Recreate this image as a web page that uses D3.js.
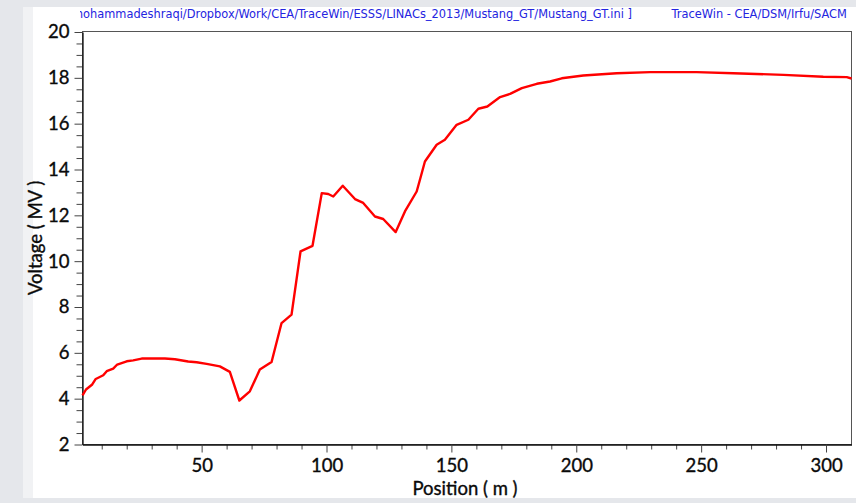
<!DOCTYPE html>
<html>
<head>
<meta charset="utf-8">
<script src="https://cdn.jsdelivr.net/npm/d3@7"></script>
<style>
  html, body { margin: 0; padding: 0; background: #e5e7eb; }
  svg { display: block; }
</style>
</head>
<body>
<svg id="chart" width="856" height="503"></svg>
<script>
// Accelerating voltage along the linac (TraceWin output)
const positions = [2.3, 3.7, 6.2, 7.6, 10.6, 12.0, 14.6, 16.2, 20.0, 22.6, 26.0, 35.3, 39.3, 44.6, 48.0,
  52.0, 57.3, 61.3, 65.1, 69.3, 73.3, 78.0, 82.0, 86.0, 89.6, 94.4, 98.1, 100.7, 102.7, 106.5,
  111.4, 114.7, 119.4, 122.7, 127.7, 131.4, 136.1, 137.6, 139.4, 144.1, 147.4, 152.1, 156.8, 160.8,
  164.4, 169.5, 173.5, 178.2, 184.2, 189.5, 194.2, 202.8, 216.2, 229.6, 248.2, 262.9, 283.0,
  298.9, 308.3, 310.2];
const voltages = [4.14, 4.40, 4.62, 4.86, 5.02, 5.20, 5.31, 5.49, 5.63, 5.67, 5.75, 5.75, 5.72, 5.62, 5.59,
  5.52, 5.41, 5.17, 3.92, 4.32, 5.27, 5.60, 7.30, 7.67, 10.43, 10.67, 12.97, 12.93, 12.82, 13.29,
  12.71, 12.54, 11.95, 11.84, 11.27, 12.17, 13.04, 13.63, 14.35, 15.08, 15.30, 15.95, 16.17, 16.65,
  16.75, 17.16, 17.30, 17.55, 17.74, 17.84, 17.98, 18.10, 18.20, 18.25, 18.25, 18.20, 18.13,
  18.05, 18.03, 17.97];
const xTicks = [50, 100, 150, 200, 250, 300];
const yTicks = [2, 4, 6, 8, 10, 12, 14, 16, 18, 20];
const xTitle = "Position ( m )";
const yTitle = "Voltage ( MV )";
const fileTitle = "[ /Users/mohammadeshraqi/Dropbox/Work/CEA/TraceWin/ESSS/LINACs_2013/Mustang_GT/Mustang_GT.ini ]";
const codeTitle = "TraceWin - CEA/DSM/Irfu/SACM";

const svg = d3.select("#chart");
const W = 856, H = 503;
const plot = { left: 82.5, right: 851.5, top: 31.5, bottom: 444.5 };
const labelFont = "Lato, 'Open Sans', sans-serif";
const titleFont = "'DejaVu Sans', Verdana, sans-serif";
const blue = "#2424e0";
const ink = "#0a0a0a";

// window background: grey surround, light strip, white panel
svg.append("rect").attr("width", W).attr("height", H).attr("fill", "#e5e7eb");
svg.append("rect").attr("x", 23).attr("y", 7).attr("width", W - 23).attr("height", 491).attr("fill", "#f1f2f4");
svg.append("rect").attr("x", 33).attr("y", 7).attr("width", W - 33).attr("height", 491).attr("fill", "#ffffff");

const x = d3.scaleLinear().domain(d3.extent(positions)).range([plot.left, plot.right]);
const y = d3.scaleLinear().domain([2, 20]).range([plot.bottom, plot.top + 0.5]);

// header lines
const clip = svg.append("defs").append("clipPath").attr("id", "hdr");
clip.append("rect").attr("x", 80).attr("y", 0).attr("width", 700).attr("height", 30);

const t2 = svg.append("text")
  .attr("x", 671.5).attr("y", 17.5)
  .attr("fill", blue)
  .style("font-family", titleFont)
  .style("font-size", "11px")
  .text(codeTitle);
// scale header font so the signature fits its slot
const fs = 11 * 175.5 / t2.node().getComputedTextLength();
t2.style("font-size", fs + "px");

svg.append("g").attr("clip-path", "url(#hdr)")
  .append("text")
  .attr("x", 632).attr("y", 17.5)
  .attr("text-anchor", "end")
  .attr("fill", blue)
  .style("font-family", titleFont)
  .style("font-size", fs + "px")
  .text(fileTitle);

// plot frame
svg.append("rect")
  .attr("x", plot.left).attr("y", plot.top)
  .attr("width", plot.right - plot.left).attr("height", plot.bottom - plot.top)
  .attr("fill", "none").attr("stroke", "#555").attr("stroke-width", 1);

// minor ticks
const xMinor = d3.range(10, 310, 10).filter(v => v >= x.domain()[0] && v <= 305 && v % 50 !== 0);
const yMinor = d3.range(2.5, 20, 0.5).filter(v => v % 2 !== 0);

svg.append("g")
  .attr("transform", `translate(0,${plot.bottom})`)
  .call(d3.axisBottom(x).tickValues(xMinor).tickSize(5).tickFormat(""))
  .call(g => g.select(".domain").remove())
  .call(g => g.selectAll("line").attr("stroke", "#444"));

svg.append("g")
  .attr("transform", `translate(${plot.left},0)`)
  .call(d3.axisLeft(y).tickValues(yMinor).tickSize(6).tickFormat(""))
  .call(g => g.select(".domain").remove())
  .call(g => g.selectAll("line").attr("stroke", "#444"));

const styleLabel = sel => sel
  .style("font-family", labelFont).style("font-size", "18.5px")
  .attr("fill", ink).attr("stroke", ink).attr("stroke-width", 0.35);

// major axes
svg.append("g")
  .attr("transform", `translate(0,${plot.bottom})`)
  .call(d3.axisBottom(x).tickValues(xTicks).tickSize(8).tickSizeOuter(0).tickPadding(6))
  .call(g => g.select(".domain").attr("stroke", "#111").attr("stroke-width", 1.3))
  .call(g => g.selectAll("line").attr("stroke", "#444"))
  .call(g => g.selectAll("text").call(styleLabel));

svg.append("g")
  .attr("transform", `translate(${plot.left},0)`)
  .call(d3.axisLeft(y).tickValues(yTicks).tickSize(8).tickSizeOuter(0).tickPadding(5))
  .call(g => g.select(".domain").attr("stroke", "#111").attr("stroke-width", 1.3))
  .call(g => g.selectAll("line").attr("stroke", "#444"))
  .call(g => g.selectAll("text").call(styleLabel));

// axis titles
svg.append("text")
  .attr("x", (plot.left + plot.right) / 2 - 2).attr("y", 495)
  .attr("text-anchor", "middle")
  .call(styleLabel)
  .text(xTitle);

svg.append("text")
  .attr("transform", `translate(42,${(plot.top + plot.bottom) / 2}) rotate(-90)`)
  .attr("text-anchor", "middle")
  .call(styleLabel)
  .text(yTitle);

// voltage curve
const pts = positions.map((p, i) => [p, voltages[i]]);
svg.append("path")
  .datum(pts)
  .attr("fill", "none")
  .attr("stroke", "#ff0000")
  .attr("stroke-width", 2.4)
  .attr("stroke-linejoin", "round")
  .attr("d", d3.line().x(d => x(d[0])).y(d => y(d[1])));
</script>
</body>
</html>
